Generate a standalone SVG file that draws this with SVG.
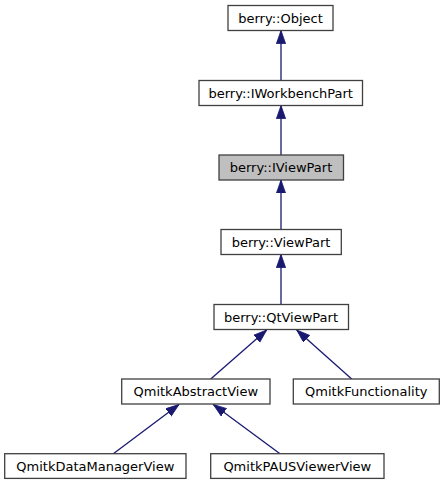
<svg xmlns="http://www.w3.org/2000/svg" width="445" height="485" viewBox="0 0 445 485">
<style>
.node rect{fill:#ffffff;stroke:#404040;stroke-width:1.3}
.node.cur rect{fill:#bfbfbf}
.node text{font-family:"DejaVu Sans",sans-serif;font-size:13px;fill:#000000;text-anchor:middle}
.edge{fill:none;stroke:#191970;stroke-width:1.3;marker-end:url(#arr)}
</style>
<defs>
<marker id="arr" markerUnits="userSpaceOnUse" markerWidth="14" markerHeight="10" refX="13.3" refY="4.65" orient="auto">
<path d="M0,0 L13.3,4.65 L0,9.3 Z" fill="#191970" stroke="#191970" stroke-width="0.8"/>
</marker>
</defs>
<rect width="445" height="485" fill="#ffffff"/>
<g id="connectors">
<path class="edge" d="M281,80.5 L281,30.5"/>
<path class="edge" d="M281,155 L281,105.5"/>
<path class="edge" d="M281,229.5 L281,180"/>
<path class="edge" d="M281,304.5 L281,254.5"/>
<path class="edge" d="M210.7,379 L266.7,330"/>
<path class="edge" d="M351.7,379 L296.7,330"/>
<path class="edge" d="M113.3,453.7 L179,404.5"/>
<path class="edge" d="M280,453.7 L213.3,404.5"/>
</g>
<g id="node-object" class="node">
<rect x="228" y="5.5" width="105" height="25"/>
<text x="280.5" y="22.5">berry::Object</text>
</g>
<g id="node-iworkbenchpart" class="node">
<rect x="199" y="80.5" width="163.5" height="25"/>
<text x="280.7" y="97.5">berry::IWorkbenchPart</text>
</g>
<g id="node-iviewpart" class="node cur">
<rect x="219" y="155" width="124.5" height="25"/>
<text x="281" y="172">berry::IViewPart</text>
</g>
<g id="node-viewpart" class="node">
<rect x="221" y="229.5" width="120.3" height="25"/>
<text x="281" y="246.5">berry::ViewPart</text>
</g>
<g id="node-qtviewpart" class="node">
<rect x="214" y="304.5" width="134.5" height="25"/>
<text x="281" y="321.5">berry::QtViewPart</text>
</g>
<g id="node-abstractview" class="node">
<rect x="121.7" y="379" width="148.3" height="25"/>
<text x="195.8" y="396">QmitkAbstractView</text>
</g>
<g id="node-functionality" class="node">
<rect x="293.3" y="379" width="146" height="25"/>
<text x="366.3" y="396">QmitkFunctionality</text>
</g>
<g id="node-datamanagerview" class="node">
<rect x="4.7" y="453.7" width="181.3" height="24.7"/>
<text x="95.3" y="470.7">QmitkDataManagerView</text>
</g>
<g id="node-pausviewerview" class="node">
<rect x="210.7" y="453.7" width="173.3" height="24.7"/>
<text x="297.3" y="470.7">QmitkPAUSViewerView</text>
</g>
</svg>
